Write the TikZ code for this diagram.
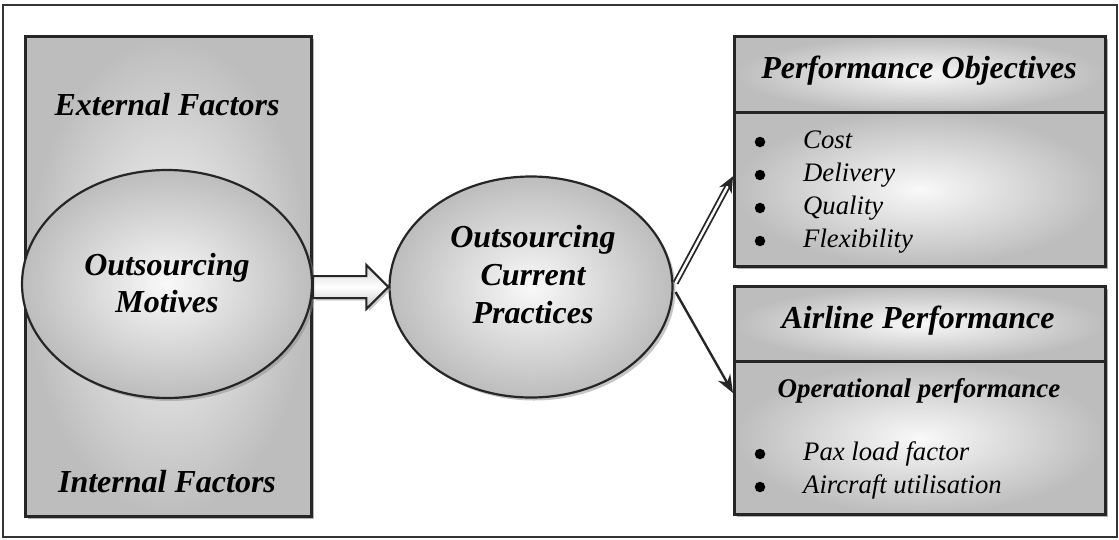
\documentclass[tikz,border=0pt]{standalone}
\usepackage{fontspec}
\setmainfont{Liberation Serif}
\usetikzlibrary{shapes.geometric,shadows,arrows.meta,calc}
\begin{document}
\begin{tikzpicture}[x=1pt,y=-1pt,
  panel/.style={draw=black!85, line width=2.6pt, shading=radial,
    inner color=gray!5, outer color=gray!52, inner sep=0pt,
    anchor=north west, minimum width=371pt,
    drop shadow={shadow xshift=3pt, shadow yshift=-3pt, fill=black!60}},
  bubble/.style={ellipse, draw=black!85, line width=2.2pt, shading=radial,
    inner color=gray!5, outer color=gray!52, inner sep=0pt,
    drop shadow={shadow xshift=3pt, shadow yshift=-3pt, fill=black!45}},
  title/.style={font=\bfseries\itshape\fontsize{32}{38}\selectfont, inner sep=0pt, anchor=base},
  subtitle/.style={font=\bfseries\itshape\fontsize{27}{32}\selectfont, inner sep=0pt, anchor=base},
  item/.style={font=\itshape\fontsize{26.7}{33}\selectfont, inner sep=0pt, anchor=base west},
  dot/.style={circle, fill=black, inner sep=0pt, minimum size=10.5pt},
  link/.style={line width=2.4pt, black!85, -{Stealth[length=18pt, width=14pt]}},
  hollowlink/.style={double=white, double distance=2.5pt, line width=1.8pt, black!85,
    -{Stealth[length=16pt, width=14pt]}}
]
\useasboundingbox (0,0) rectangle (1119,539);
% outer frame
\draw[line width=2.6pt, black!80] (3,5) rectangle (1117,537);

% left panel: motives with external / internal factors
\node[panel, minimum width=286pt, minimum height=480pt] (factors) at (24,35) {};
\node[title] (ext) at (167,115) {External Factors};
\node[title] (int) at (167,492) {Internal Factors};
\node[bubble, minimum width=290pt, minimum height=228pt] (motives) at (167,284) {};
\node[title] (mot1) at (167,275) {Outsourcing};
\node[title] (mot2) at (167,312) {Motives};

% centre bubble
\node[bubble, minimum width=283pt, minimum height=221pt] (practices) at (531,287) {};
\node[title] (pra1) at (533,247) {Outsourcing};
\node[title] (pra2) at (533,285) {Current};
\node[title] (pra3) at (533,323) {Practices};

% block arrow between the bubbles
\coordinate (ba) at (motives.east |- practices.west);
\coordinate (bb) at (practices.west);
\draw[line width=2pt, black!85, shading=axis, top color=gray!35, bottom color=gray!45,
      middle color=white, drop shadow={shadow xshift=2.5pt, shadow yshift=-2.5pt, fill=black!40}]
  ($(ba)+(0,-11)$) -- ($(bb)+(-22,-11)$) -- ($(bb)+(-22,-22)$) -- (bb)
  -- ($(bb)+(-22,22)$) -- ($(bb)+(-22,11)$) -- ($(ba)+(0,11)$) -- cycle;

% performance objectives
\node[panel, minimum height=76pt] (objhead) at (733,35) {};
\node[panel, minimum height=154pt] (objbody) at (733,111) {};
\node[title] (objt) at (919,78) {Performance Objectives};
\node[dot] (d1) at (760,142) {};
\node[dot] (d2) at (760,175) {};
\node[dot] (d3) at (760,208) {};
\node[dot] (d4) at (760,241) {};
\node[item] (i1) at (803,148) {Cost};
\node[item] (i2) at (803,181) {Delivery};
\node[item] (i3) at (803,214) {Quality};
\node[item] (i4) at (803,247) {Flexibility};

% airline performance
\node[panel, minimum height=75pt] (perfhead) at (733,285) {};
\node[panel, minimum height=153pt] (perfbody) at (733,360) {};
\node[title] (perft) at (918,328) {Airline Performance};
\node[subtitle] (opt) at (919,397) {Operational performance};
\node[dot] (d5) at (760,454) {};
\node[dot] (d6) at (760,487) {};
\node[item] (i5) at (803,460) {Pax load factor};
\node[item] (i6) at (803,493) {Aircraft utilisation};

% connectors from the centre bubble
\draw[hollowlink] ($(practices.east)+(2,-4)$) -- ($(objbody.west)+(0,-13)$);
\draw[link] ($(practices.east)+(2,5)$) -- ($(perfbody.north west)+(0,33)$);
\end{tikzpicture}
\end{document}
